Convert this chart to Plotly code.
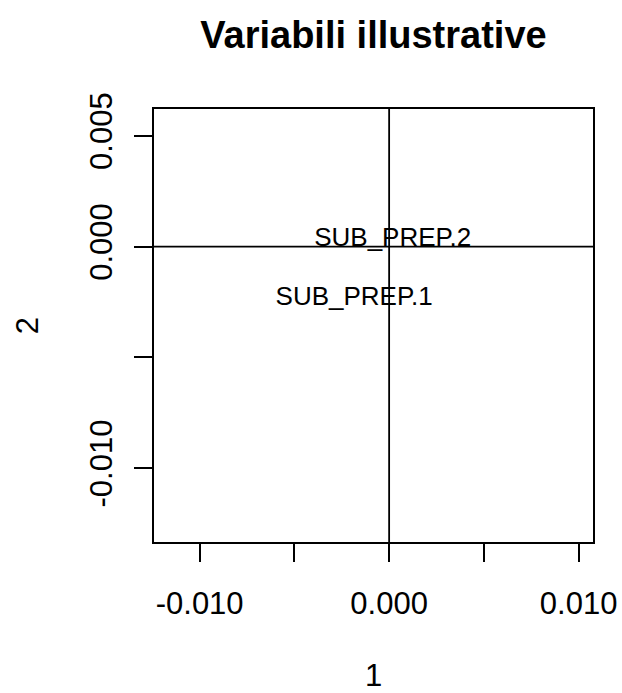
import plotly.graph_objects as go

# Illustrative-variable coordinates on dimensions 1 and 2
labels = ["SUB_PREP.1", "SUB_PREP.2"]
dim1 = [-0.00185, 0.00019]
dim2 = [-0.00236, 0.00030]

x_ticks = [-0.010, -0.005, 0.000, 0.005, 0.010]
x_ticktext = ["-0.010", "", "0.000", "", "0.010"]
y_ticks = [-0.010, -0.005, 0.000, 0.005]
y_ticktext = ["-0.010", "", "0.000", "0.005"]

x_range = [-0.01241, 0.01076]
y_range = [-0.01333, 0.00621]

font = "Arial, Liberation Sans, sans-serif"

fig = go.Figure()

# Reference lines through the origin
fig.add_hline(y=0, line=dict(color="black", width=1.8))
fig.add_vline(x=0, line=dict(color="black", width=1.8))

fig.add_trace(go.Scatter(
    x=dim1, y=dim2, mode="text", text=labels,
    textposition="middle center",
    textfont=dict(family=font, size=26, color="black"),
    hoverinfo="skip", showlegend=False,
))

axis_common = dict(
    showgrid=False, zeroline=False, automargin=False,
    showline=True, linecolor="black", linewidth=1.8, mirror=True,
    ticks="outside", ticklen=18, tickwidth=1.8, tickcolor="black",
    tickfont=dict(family=font, size=31, color="black"),
)

fig.update_xaxes(
    range=x_range, tickvals=x_ticks, ticktext=x_ticktext,
    ticklabelstandoff=15,
    title=dict(text="1", font=dict(family=font, size=31, color="black"), standoff=48),
    **axis_common,
)
fig.update_yaxes(
    range=y_range, tickvals=y_ticks, ticktext=y_ticktext,
    tickangle=-90, ticklabelstandoff=10,
    title=dict(text="2", font=dict(family=font, size=31, color="black"), standoff=36),
    **axis_common,
)

fig.update_layout(
    width=622, height=693,
    margin=dict(l=154, r=29, t=109, b=151),
    paper_bgcolor="white", plot_bgcolor="white",
    title=dict(
        text="<b>Variabili illustrative</b>",
        font=dict(family=font, size=38, color="black"),
        xref="paper", x=0.5, xanchor="center",
        y=1 - 35 / 693, yanchor="middle",
    ),
)

fig.write_html("out.html")
